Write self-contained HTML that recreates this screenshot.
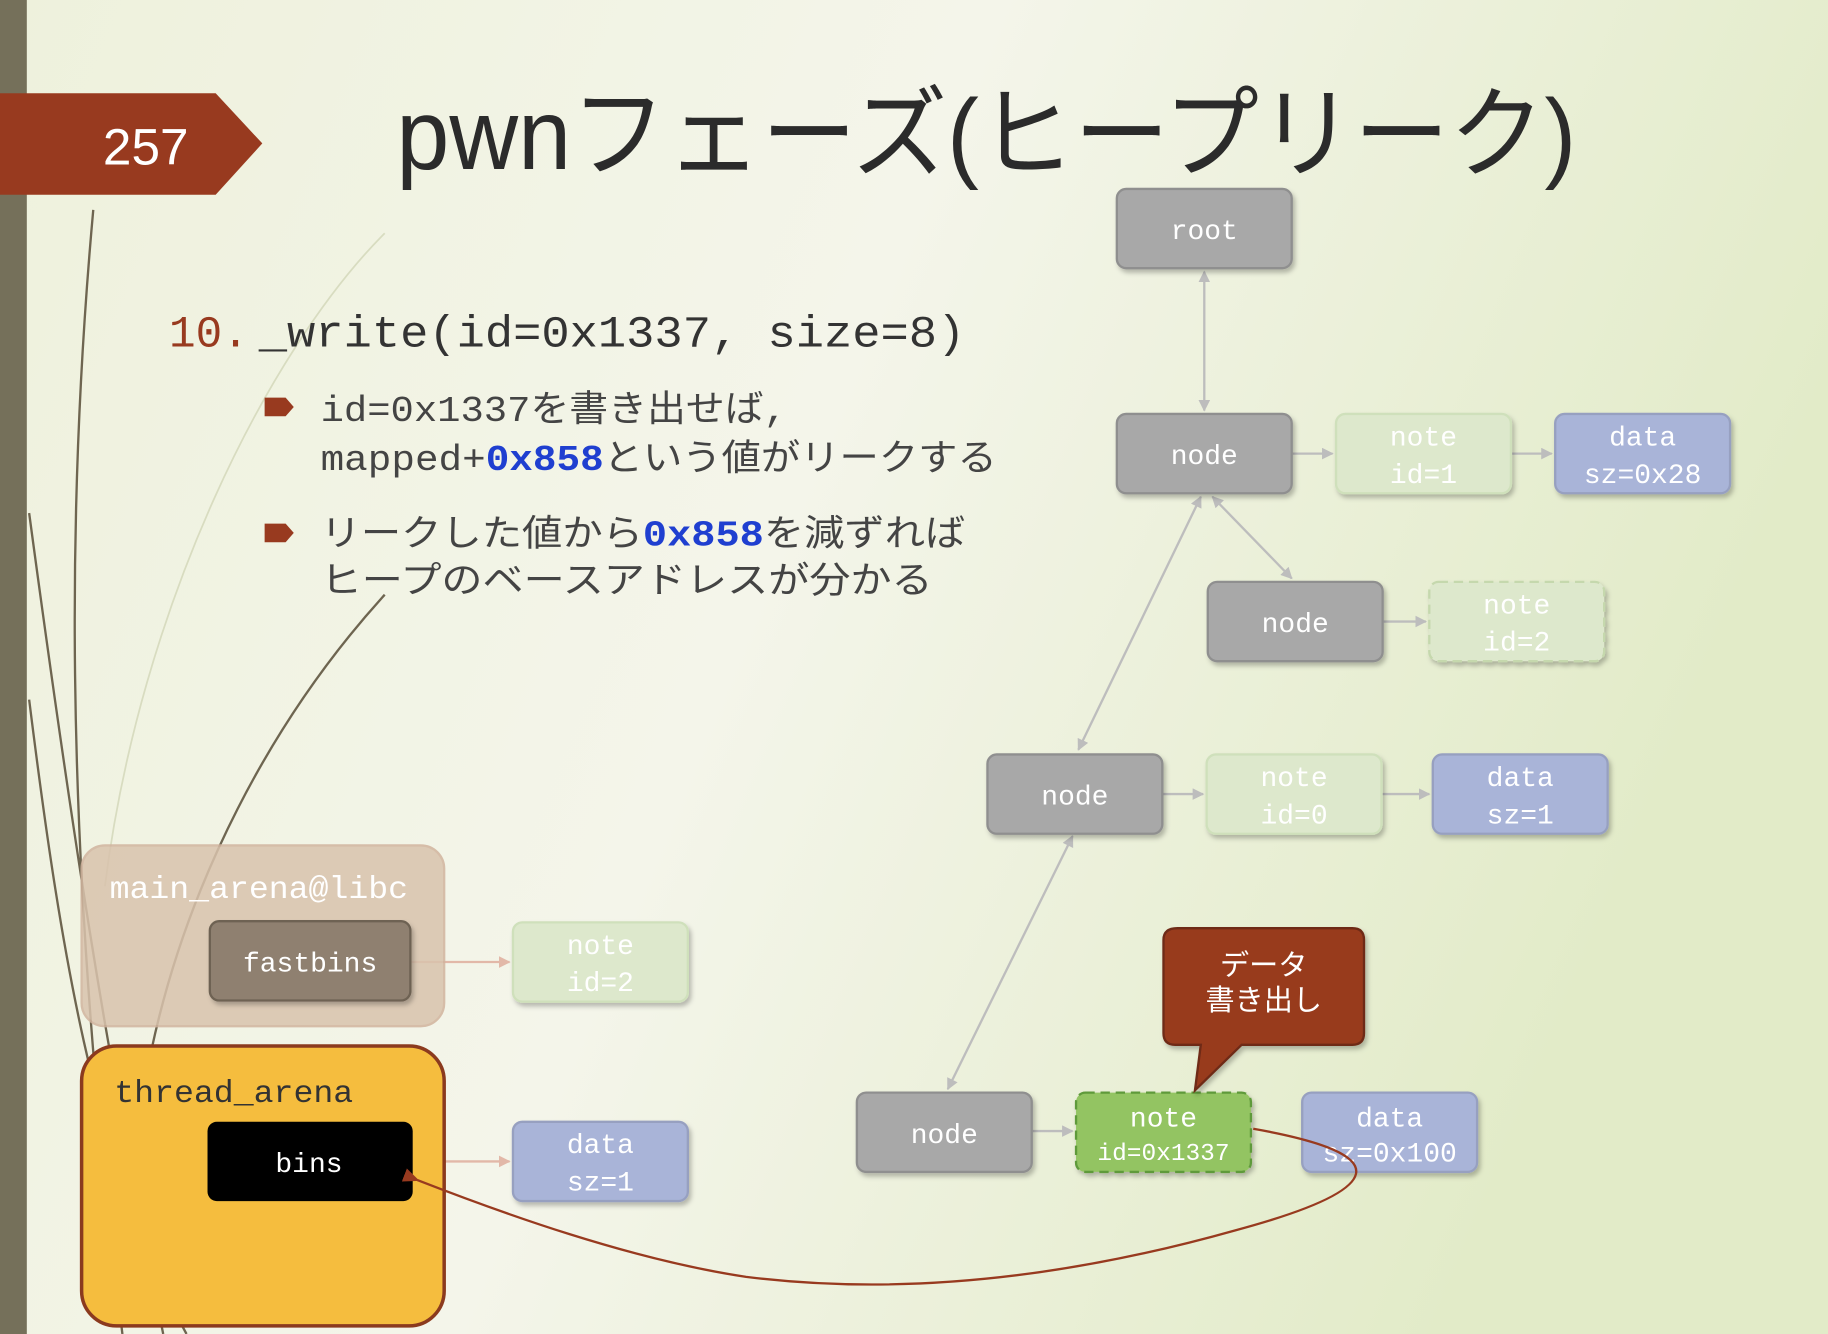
<!DOCTYPE html>
<html><head><meta charset="utf-8"><style>html,body{margin:0;padding:0;overflow:hidden;background:#e8eed6}svg{display:block}</style></head><body>
<svg xmlns="http://www.w3.org/2000/svg" width="1828" height="1334" viewBox="0 0 1568 1144" preserveAspectRatio="none">
<defs>
<linearGradient id="bg" x1="0" y1="0" x2="1" y2="0.3">
<stop offset="0" stop-color="#eef1dc"/><stop offset="0.5" stop-color="#f4f5ea"/><stop offset="1" stop-color="#e2ebc8"/></linearGradient>
<marker id="ar" markerWidth="10" markerHeight="10" refX="9" refY="5" orient="auto" markerUnits="userSpaceOnUse"><path d="M0,0 L10,5 L0,10 z" fill="#bdbdbd"/></marker>
<marker id="al" markerWidth="10" markerHeight="10" refX="1" refY="5" orient="auto" markerUnits="userSpaceOnUse"><path d="M10,0 L0,5 L10,10 z" fill="#bdbdbd"/></marker>
<marker id="rr" markerWidth="14" markerHeight="12" refX="2" refY="6" orient="auto" markerUnits="userSpaceOnUse"><path d="M14,0 L0,6 L14,12 z" fill="#983a1f"/></marker>
<marker id="ap" markerWidth="10" markerHeight="10" refX="9" refY="5" orient="auto" markerUnits="userSpaceOnUse"><path d="M0,0 L10,5 L0,10 z" fill="#e2b8a8"/></marker>
<filter id="sh" x="-10%" y="-10%" width="130%" height="140%"><feDropShadow dx="2" dy="3" stdDeviation="2" flood-opacity="0.25"/></filter>
</defs>
<rect width="1568" height="1144" fill="url(#bg)"/>
<rect x="0" y="0" width="23" height="1144" fill="#75705a"/>
<g fill="none" stroke="#6e6550" stroke-width="2">
<path d="M80,180 C60,400 50,700 105,1144"/>
<path d="M25,440 C60,700 90,900 140,1144"/>
<path d="M25,600 C50,800 80,1000 160,1144"/>
<path d="M330,510 C230,620 160,760 130,900"/>
</g>
<path d="M330,200 C230,300 120,520 90,760" fill="none" stroke="#d8dcc0" stroke-width="1.5"/>
<path d="M0,80 L185,80 L225,123 L185,167 L0,167 z" fill="#983a1f"/>
<text x="125" y="141" font-family="Liberation Sans, sans-serif" font-size="44" fill="#fff" text-anchor="middle">257</text>
<text x="340" y="145" font-family="Liberation Sans, Noto Sans CJK JP, sans-serif" font-size="86" fill="#2b2b2b" textLength="1012" lengthAdjust="spacingAndGlyphs">pwnフェーズ(ヒープリーク)</text>
<g font-family="Liberation Mono, Noto Sans CJK JP, monospace" font-size="38">
<text x="145" y="297" fill="#983a1f">10.</text>
<text x="222" y="297" fill="#333" textLength="606" lengthAdjust="spacingAndGlyphs">_write(id=0x1337, size=8)</text>
</g>
<g font-family="Liberation Mono, Noto Sans CJK JP, monospace" font-size="31" fill="#444">
<path d="M227,341 L245,341 L252,349 L245,357 L227,357 z" fill="#983a1f"/>
<text x="275" y="361" textLength="400" lengthAdjust="spacingAndGlyphs">id=0x1337を書き出せば,</text>
<text x="275" y="403" textLength="580" lengthAdjust="spacingAndGlyphs">mapped+<tspan fill="#1f3fd0" font-weight="bold">0x858</tspan>という値がリークする</text>
<path d="M227,449 L245,449 L252,457 L245,465 L227,465 z" fill="#983a1f"/>
<text x="275" y="468" textLength="553" lengthAdjust="spacingAndGlyphs">リークした値から<tspan fill="#1f3fd0" font-weight="bold">0x858</tspan>を減ずれば</text>
<text x="275" y="508" textLength="525" lengthAdjust="spacingAndGlyphs">ヒープのベースアドレスが分かる</text>
</g>
<g stroke="#bdbdbd" stroke-width="2" fill="none">
<line x1="1033" y1="233" x2="1033" y2="352" marker-start="url(#al)" marker-end="url(#ar)"/>
<line x1="1108" y1="389" x2="1143" y2="389" marker-end="url(#ar)"/>
<line x1="1296" y1="389" x2="1331" y2="389" marker-end="url(#ar)"/>
<line x1="1040" y1="426" x2="1108" y2="496" marker-start="url(#al)" marker-end="url(#ar)"/>
<line x1="1186" y1="533" x2="1223" y2="533" marker-end="url(#ar)"/>
<line x1="1030" y1="426" x2="925" y2="643" marker-start="url(#al)" marker-end="url(#ar)"/>
<line x1="997" y1="681" x2="1032" y2="681" marker-end="url(#ar)"/>
<line x1="1185" y1="681" x2="1226" y2="681" marker-end="url(#ar)"/>
<line x1="920" y1="717" x2="813" y2="934" marker-start="url(#al)" marker-end="url(#ar)"/>
<line x1="885" y1="970" x2="920" y2="970" marker-end="url(#ar)"/>
</g>
<g stroke="#e2b8a8" stroke-width="2"><line x1="352" y1="825" x2="437" y2="825" marker-end="url(#ap)"/><line x1="352" y1="996" x2="437" y2="996" marker-end="url(#ap)"/></g>
<g font-family="Liberation Mono, monospace" font-size="24" fill="#fff" text-anchor="middle" filter="url(#sh)">
<rect x="958" y="162" width="150" height="68" rx="8" fill="#a8a8a8" stroke="#8f8f8f" stroke-width="2"/>
<text x="1033" y="205">root</text>
<rect x="958" y="355" width="150" height="68" rx="8" fill="#a8a8a8" stroke="#8f8f8f" stroke-width="2"/>
<text x="1033" y="398">node</text>
<rect x="1146" y="355" width="150" height="68" rx="8" fill="#dde8cc" stroke="#cfe0bb" stroke-width="2"/>
<text x="1221" y="382">note</text><text x="1221" y="414">id=1</text>
<rect x="1334" y="355" width="150" height="68" rx="8" fill="#a9b4d8" stroke="#97a0c0" stroke-width="2"/>
<text x="1409" y="382">data</text><text x="1409" y="414">sz=0x28</text>
<rect x="1036" y="499" width="150" height="68" rx="8" fill="#a8a8a8" stroke="#8f8f8f" stroke-width="2"/>
<text x="1111" y="542">node</text>
<rect x="1226" y="499" width="150" height="68" rx="8" fill="#dde8cc" stroke="#c5d8ad" stroke-width="2" stroke-dasharray="8 5"/>
<text x="1301" y="526">note</text><text x="1301" y="558">id=2</text>
<rect x="847" y="647" width="150" height="68" rx="8" fill="#a8a8a8" stroke="#8f8f8f" stroke-width="2"/>
<text x="922" y="690">node</text>
<rect x="1035" y="647" width="150" height="68" rx="8" fill="#dde8cc" stroke="#cfe0bb" stroke-width="2"/>
<text x="1110" y="674">note</text><text x="1110" y="706">id=0</text>
<rect x="1229" y="647" width="150" height="68" rx="8" fill="#a9b4d8" stroke="#97a0c0" stroke-width="2"/>
<text x="1304" y="674">data</text><text x="1304" y="706">sz=1</text>
<rect x="735" y="937" width="150" height="68" rx="8" fill="#a8a8a8" stroke="#8f8f8f" stroke-width="2"/>
<text x="810" y="980">node</text>
<rect x="923" y="937" width="150" height="68" rx="8" fill="#93c462" stroke="#5f9a3a" stroke-width="2" stroke-dasharray="8 5"/>
<text x="998" y="966">note</text><text x="998" y="995" font-size="21">id=0x1337</text>
<rect x="1117" y="937" width="150" height="68" rx="8" fill="#a9b4d8" stroke="#97a0c0" stroke-width="2"/>
<text x="1192" y="966">data</text><text x="1192" y="996">sz=0x100</text>
<rect x="440" y="791" width="150" height="68" rx="8" fill="#dde8cc" stroke="#cfe0bb" stroke-width="2"/>
<text x="515" y="818">note</text><text x="515" y="850">id=2</text>
<rect x="440" y="962" width="150" height="68" rx="8" fill="#a9b4d8" stroke="#97a0c0" stroke-width="2"/>
<text x="515" y="989">data</text><text x="515" y="1021">sz=1</text>
</g>
<rect x="70" y="725" width="311" height="155" rx="20" fill="#d9c3ad" stroke="#d1b49e" stroke-width="2" opacity="0.85"/>
<text x="94" y="770" font-family="Liberation Mono, monospace" font-size="27" fill="#fff" textLength="256" lengthAdjust="spacingAndGlyphs">main_arena@libc</text>
<rect x="180" y="790" width="172" height="68" rx="8" fill="#8f8070" stroke="#6e6253" stroke-width="2" filter="url(#sh)"/>
<text x="266" y="833" font-family="Liberation Mono, monospace" font-size="24" fill="#fff" text-anchor="middle">fastbins</text>
<rect x="70" y="897" width="311" height="240" rx="30" fill="#f5bd3e" stroke="#8b3a1e" stroke-width="3"/>
<text x="98" y="945" font-family="Liberation Mono, monospace" font-size="27" fill="#333" textLength="205" lengthAdjust="spacingAndGlyphs">thread_arena</text>
<rect x="178" y="962" width="176" height="68" rx="8" fill="#000"/>
<text x="265" y="1005" font-family="Liberation Mono, monospace" font-size="24" fill="#fff" text-anchor="middle">bins</text>
<path d="M1075,968 C1200,990 1190,1020 1060,1055 C900,1100 760,1110 640,1095 C540,1080 430,1040 358,1012" fill="none" stroke="#983a1f" stroke-width="2" marker-end="url(#rr)"/>
<path d="M1010,796 L1160,796 Q1170,796 1170,806 L1170,886 Q1170,896 1160,896 L1065,896 L1025,935 L1030,896 L1008,896 Q998,896 998,886 L998,806 Q998,796 1010,796 z" fill="#983a1f" stroke="#6e2a16" stroke-width="2" filter="url(#sh)"/>
<text x="1084" y="836" font-family="Liberation Sans, Noto Sans CJK JP, sans-serif" font-size="25" fill="#fff" text-anchor="middle">データ</text>
<text x="1084" y="866" font-family="Liberation Sans, Noto Sans CJK JP, sans-serif" font-size="25" fill="#fff" text-anchor="middle">書き出し</text>
</svg>
</body></html>
